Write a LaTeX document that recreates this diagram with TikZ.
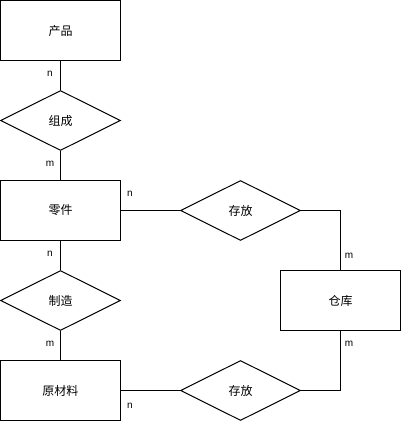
\documentclass[tikz,border=0pt]{standalone}
\usepackage{fontspec}
\setmainfont{Liberation Sans}
\newfontfamily\cjk{Noto Sans CJK SC}
\usetikzlibrary{shapes.geometric,positioning}

\begin{document}
\begin{tikzpicture}[
  x=0.75pt,y=-0.75pt,
  line width=0.75pt,
  font=\cjk\fontsize{9}{11}\selectfont,
  ent/.style={draw, rectangle, minimum width=90pt, minimum height=45pt, inner sep=0pt},
  rel/.style={draw, diamond, aspect=2, minimum width=90pt, minimum height=45pt, inner sep=0pt},
  card/.style={font=\fontsize{7.5}{9}\selectfont, inner sep=0pt},
  link/.style={line width=0.75pt},
]
\useasboundingbox (0,0) rectangle (401,422);

%% ---------- entities ----------
\node[ent] (prod) at (60.5,30.5)  {产品};
\node[ent] (part) at (60.5,210.5) {零件};
\node[ent] (raw)  at (60.5,390.5) {原材料};
\node[ent] (ware) at (340.5,300.5) {仓库};

%% ---------- relations ----------
\node[rel] (consist) at (60.5,120.5)  {组成};
\node[rel] (make)    at (60.5,300.5)  {制造};
\node[rel] (storeA)  at (240.5,210.5) {存放};
\node[rel] (storeB)  at (240.5,390.5) {存放};

%% ---------- links ----------
\draw[link] (prod.south) -- (consist.north);
\draw[link] (consist.south) -- (part.north);
\draw[link] (part.south) -- (make.north);
\draw[link] (make.south) -- (raw.north);
\draw[link] (part.east) -- (storeA.west);
\draw[link] (storeA.east) -| (ware.north);
\draw[link] (raw.east) -- (storeB.west);
\draw[link] (storeB.east) -| (ware.south);

%% ---------- cardinalities ----------
\node[card] (c1) at (50,74)   {n};
\node[card] (c2) at (50,164)  {m};
\node[card] (c3) at (130,194) {n};
\node[card] (c4) at (349,256) {m};
\node[card] (c5) at (50,254)  {n};
\node[card] (c6) at (50,344)  {m};
\node[card] (c7) at (349,344) {m};
\node[card] (c8) at (130,406) {n};
\end{tikzpicture}
\end{document}
